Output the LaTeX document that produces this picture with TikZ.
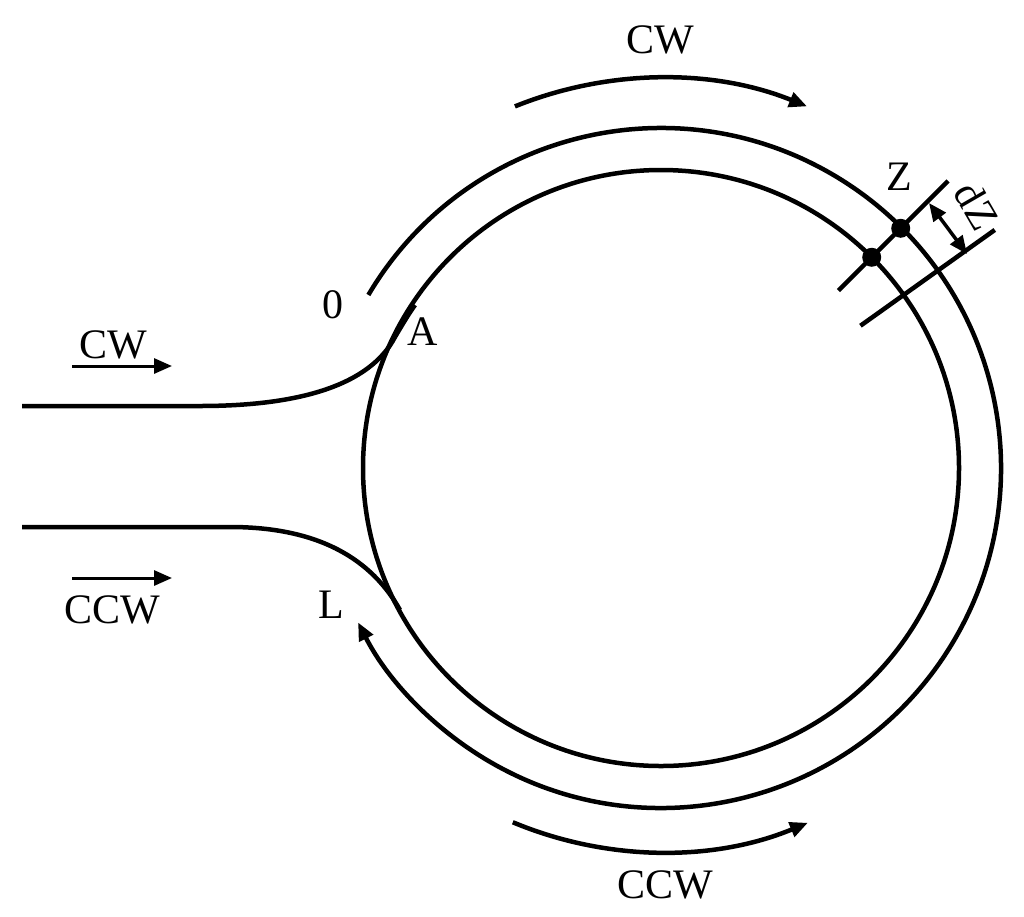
\documentclass[tikz,border=0pt]{standalone}
\usepackage{fontspec}
\setmainfont{Liberation Serif}
\usetikzlibrary{arrows.meta}
\begin{document}
\begin{tikzpicture}[x=1pt,y=-1pt,line width=4.5pt,
  lbl/.style={font=\fontsize{42}{48}\selectfont,inner sep=0pt},
  arr/.style={-{Triangle[length=18pt,width=15pt]}},
  dot/.style={circle,fill,inner sep=0pt,minimum size=19pt}]
\useasboundingbox (0,0) rectangle (1024,916);
\coordinate (O) at (661,468);
\draw (O) circle[radius=298];
\draw[arr] ([shift={(-149.4:340)}]O) arc[start angle=-149.4,end angle=153,radius=340];
\draw[arr] ([shift={(-112:390)}]O) arc[start angle=-112,end angle=-68,radius=390];
\draw[arr] ([shift={(112.7:384)}]O) arc[start angle=112.7,end angle=67.5,radius=384];
% fibres
\coordinate (lt) at (22,406);
\coordinate (A) at (395,337);
\coordinate (lb) at (22,527);
\coordinate (L) at (400,610);
\draw (lt) -- (200,406) .. controls (300,406) and (370,385) .. (A) .. controls (405,320) and (410,312) .. (415,305);
\draw (lb) -- (230,527) .. controls (320,527) and (372,560) .. (L);
% Z markers
\draw ([shift={(-45:251)}]O) coordinate (z1) -- ([shift={(-45:406)}]O) coordinate (z2);
\draw ([shift={(-35.5:245)}]O) coordinate (z3) -- ([shift={(-35.5:410)}]O) coordinate (z4);
\node[dot] (d1) at ([shift={(-45:298)}]O) {};
\node[dot] (d2) at ([shift={(-45:339)}]O) {};
\coordinate (da) at (929,203);
\coordinate (db) at (967,254);
\draw[{Triangle[length=18pt,width=15pt]}-{Triangle[length=18pt,width=15pt]},line width=3.5pt] (da) -- (db);
% labels
\node[lbl] (tcw) at (660,40) {CW};
\node[lbl] (bcw) at (665,885) {CCW};
\node[lbl] (lcw) at (113,345) {CW};
\node[lbl] (lccw) at (112,610) {CCW};
\node[lbl] (n0) at (333,305) {0};
\node[lbl] (nA) at (423,332) {A};
\node[lbl] (nL) at (331,605) {L};
\node[lbl] (nZ) at (899,177) {Z};
\node[lbl,rotate=-60] (ndz) at (977,206) {dZ};
\coordinate (a1) at (72,366); \coordinate (a2) at (172,366);
\coordinate (b1) at (72,578); \coordinate (b2) at (172,578);
\draw[arr,line width=3pt] (a1) -- (a2);
\draw[arr,line width=3pt] (b1) -- (b2);
\end{tikzpicture}
\end{document}
